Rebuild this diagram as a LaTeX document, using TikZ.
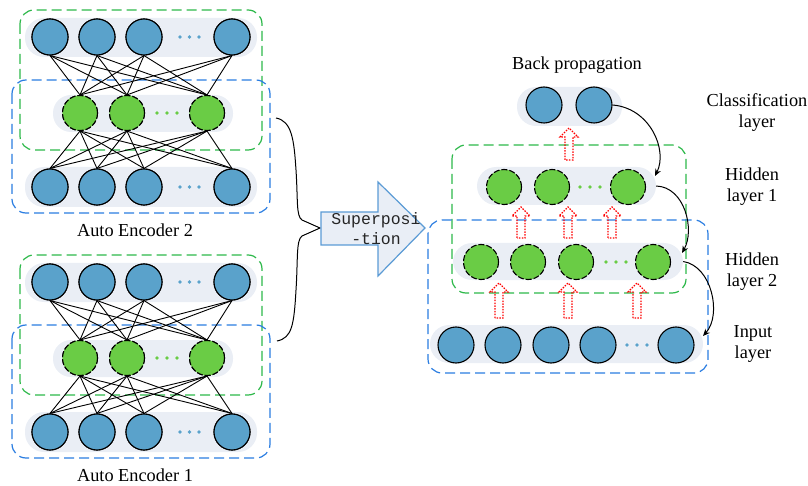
\documentclass[tikz,border=0pt]{standalone}
\usepackage{fontspec}
\setmainfont{Liberation Serif}
\newfontfamily\monof{Liberation Mono}
\usetikzlibrary{arrows.meta}
\definecolor{nblue}{HTML}{5AA2CB}
\definecolor{ngreen}{HTML}{6ACC45}
\definecolor{pillc}{HTML}{EAEEF5}
\definecolor{gdash}{HTML}{2DB84A}
\definecolor{bdash}{HTML}{2A7DE1}
\definecolor{arrfill}{HTML}{E9EEF6}
\definecolor{arrdraw}{HTML}{5B9BD5}
\tikzset{
  bnode/.style={circle,minimum size=36pt,inner sep=0pt,fill=nblue,draw=black,line width=1.1pt},
  gnode/.style={circle,minimum size=35pt,inner sep=0pt,fill=ngreen,draw=black,line width=1.1pt,dash pattern=on 6pt off 2pt},
  pillbox/.style={fill=pillc,draw=none,rounded corners=19pt,inner sep=0pt},
  gbox/.style={draw=gdash,line width=1.2pt,dash pattern=on 10pt off 5pt,rounded corners=14pt},
  bbox/.style={draw=bdash,line width=1.2pt,dash pattern=on 10pt off 5pt,rounded corners=14pt},
  link/.style={draw=black,line width=0.9pt},
  bdot/.style={circle,fill=nblue,inner sep=0pt,minimum size=3.6pt},
  gdot/.style={circle,fill=ngreen,inner sep=0pt,minimum size=3.6pt},
  redarr/.style={draw=red,line width=1.2pt,dash pattern=on 1.5pt off 1.3pt},
  curv/.style={draw=black,line width=1pt,-{Stealth[length=7pt,width=6pt]}},
  lbl/.style={font=\fontsize{18.3}{21}\selectfont,align=center,inner sep=0pt},
}
\newcommand\hup[3]{\draw[redarr] (#1-4,#2) -- (#1-4,#3+9) -- (#1-9,#3+9) -- (#1,#3) -- (#1+9,#3+9) -- (#1+4,#3+9) -- (#1+4,#2) -- cycle;}
\newcommand\aenc[3]{%
  \begin{scope}[yshift=-#1pt]
  \fill[pillc,rounded corners=19pt] (25,18) rectangle (257,57);
  \fill[pillc,rounded corners=18pt] (53,95) rectangle (233,132);
  \fill[pillc,rounded corners=19pt] (25,167) rectangle (257,207);
  \draw[gbox] (20,10) rectangle (262,150);
  \draw[bbox] (12,80) rectangle (270,213);
  \node[bnode] (#2t1) at (50,37) {};
  \node[bnode] (#2t2) at (97,37) {};
  \node[bnode] (#2t3) at (144,37) {};
  \node[bnode] (#2t4) at (232,37) {};
  \node[bdot] (#2td1) at (180,37) {};
  \node[bdot] (#2td2) at (189.5,37) {};
  \node[bdot] (#2td3) at (199,37) {};
  \node[bnode] (#2b1) at (50,187) {};
  \node[bnode] (#2b2) at (97,187) {};
  \node[bnode] (#2b3) at (144,187) {};
  \node[bnode] (#2b4) at (232,187) {};
  \node[bdot] (#2bd1) at (180,187) {};
  \node[bdot] (#2bd2) at (189.5,187) {};
  \node[bdot] (#2bd3) at (199,187) {};
  \node[gnode] (#2m1) at (80,113) {};
  \node[gnode] (#2m2) at (127,113) {};
  \node[gnode] (#2m3) at (207,113) {};
  \node[gdot] (#2md1) at (157,113) {};
  \node[gdot] (#2md2) at (167,113) {};
  \node[gdot] (#2md3) at (177,113) {};
  \foreach \i in {1,2,3,4}{\foreach \j in {1,2,3}{
    \draw[link] (#2t\i.south) -- (#2m\j.north);
    \draw[link] (#2b\i.north) -- (#2m\j.south);}}
  \foreach \i in {1,2,3,4}{\node[bnode] at (#2t\i) {}; \node[bnode] at (#2b\i) {};}
  \foreach \j in {1,2,3}{\node[gnode] at (#2m\j) {};}
  \node[lbl] (#2lab) at (135,230) {#3};
  \end{scope}}
\begin{document}
\begin{tikzpicture}[x=1pt,y=-1pt]
\useasboundingbox (0,0) rectangle (808,486);
\aenc{0}{A}{Auto Encoder 2}
\aenc{245}{B}{Auto Encoder 1}
% brace
\coordinate (brtop) at (276,118);
\coordinate (brbot) at (277,341);
\coordinate (brtip) at (320,228);
\draw[line width=1pt] (brtop) .. controls (292,121) and (294,140) .. (296,170)
  .. controls (298,200) and (296,216) .. (302,220) -- (brtip)
  -- (302,236) .. controls (296,240) and (298,260) .. (296,290)
  .. controls (294,325) and (292,338) .. (brbot);
% block arrow
\draw[fill=arrfill,draw=arrdraw,line width=1.2pt] (321,212) -- (378,212) -- (378,182) -- (425,228) -- (378,276) -- (378,245) -- (321,245) -- cycle;
\node[font=\monof\fontsize{16.5}{20}\selectfont,align=center,inner sep=0pt,text=black!85] (sup) at (376,229) {Superposi\\-tion};
% right side
\node[lbl] (bp) at (577,65) {Back propagation};
\node[pillbox,minimum width=105pt,minimum height=39pt] (cp) at (569.5,106.5) {};
\draw[gbox] (452,145) rectangle (686,293);
\draw[bbox] (428,220) rectangle (708,373);
\node[pillbox,minimum width=179pt,minimum height=38pt] (h1p) at (566.5,186) {};
\node[pillbox,minimum width=230pt,minimum height=37pt] (h2p) at (568,261.5) {};
\node[pillbox,minimum width=273pt,minimum height=38pt] (inp) at (566.5,344) {};
\node[bnode] (c1) at (544,105) {};
\node[bnode] (c2) at (594,105) {};
\node[gnode] (h11) at (504,187) {};
\node[gnode] (h12) at (552,187) {};
\node[gnode] (h13) at (628,187) {};
\node[gdot] (h1d1) at (580,187) {};
\node[gdot] (h1d2) at (590,187) {};
\node[gdot] (h1d3) at (600,187) {};
\node[gnode] (h21) at (481,262) {};
\node[gnode] (h22) at (528,262) {};
\node[gnode] (h23) at (576,262) {};
\node[gnode] (h24) at (653,262) {};
\node[gdot] (h2d1) at (606,262) {};
\node[gdot] (h2d2) at (616,262) {};
\node[gdot] (h2d3) at (626,262) {};
\node[bnode] (i1) at (456,345) {};
\node[bnode] (i2) at (503,345) {};
\node[bnode] (i3) at (551,345) {};
\node[bnode] (i4) at (598,345) {};
\node[bnode] (i5) at (676,345) {};
\node[bdot] (id1) at (627,345) {};
\node[bdot] (id2) at (637,345) {};
\node[bdot] (id3) at (647,345) {};
% red hollow arrows
\hup{569}{160}{128}
\hup{521}{238}{207}
\hup{568}{238}{207}
\hup{612}{238}{207}
\hup{499}{318}{283}
\hup{568}{318}{283}
\hup{637}{318}{283}
% curved arrows
\coordinate (e1) at (655,176);
\coordinate (e2) at (682,253);
\coordinate (e3) at (703,336);
\draw[curv] (c2.east) .. controls (650,108) and (668,150) .. (e1);
\draw[curv] (h1p.east) .. controls (685,187) and (695,230) .. (e2);
\draw[curv] (h2p.east) .. controls (712,266) and (722,315) .. (e3);
% labels
\node[lbl] (lc) at (757,113) {Classification\\layer};
\node[lbl] (lh1) at (752,187) {Hidden\\layer 1};
\node[lbl] (lh2) at (752,272) {Hidden\\layer 2};
\node[lbl] (li) at (753,344) {Input\\layer};
\end{tikzpicture}
\end{document}
